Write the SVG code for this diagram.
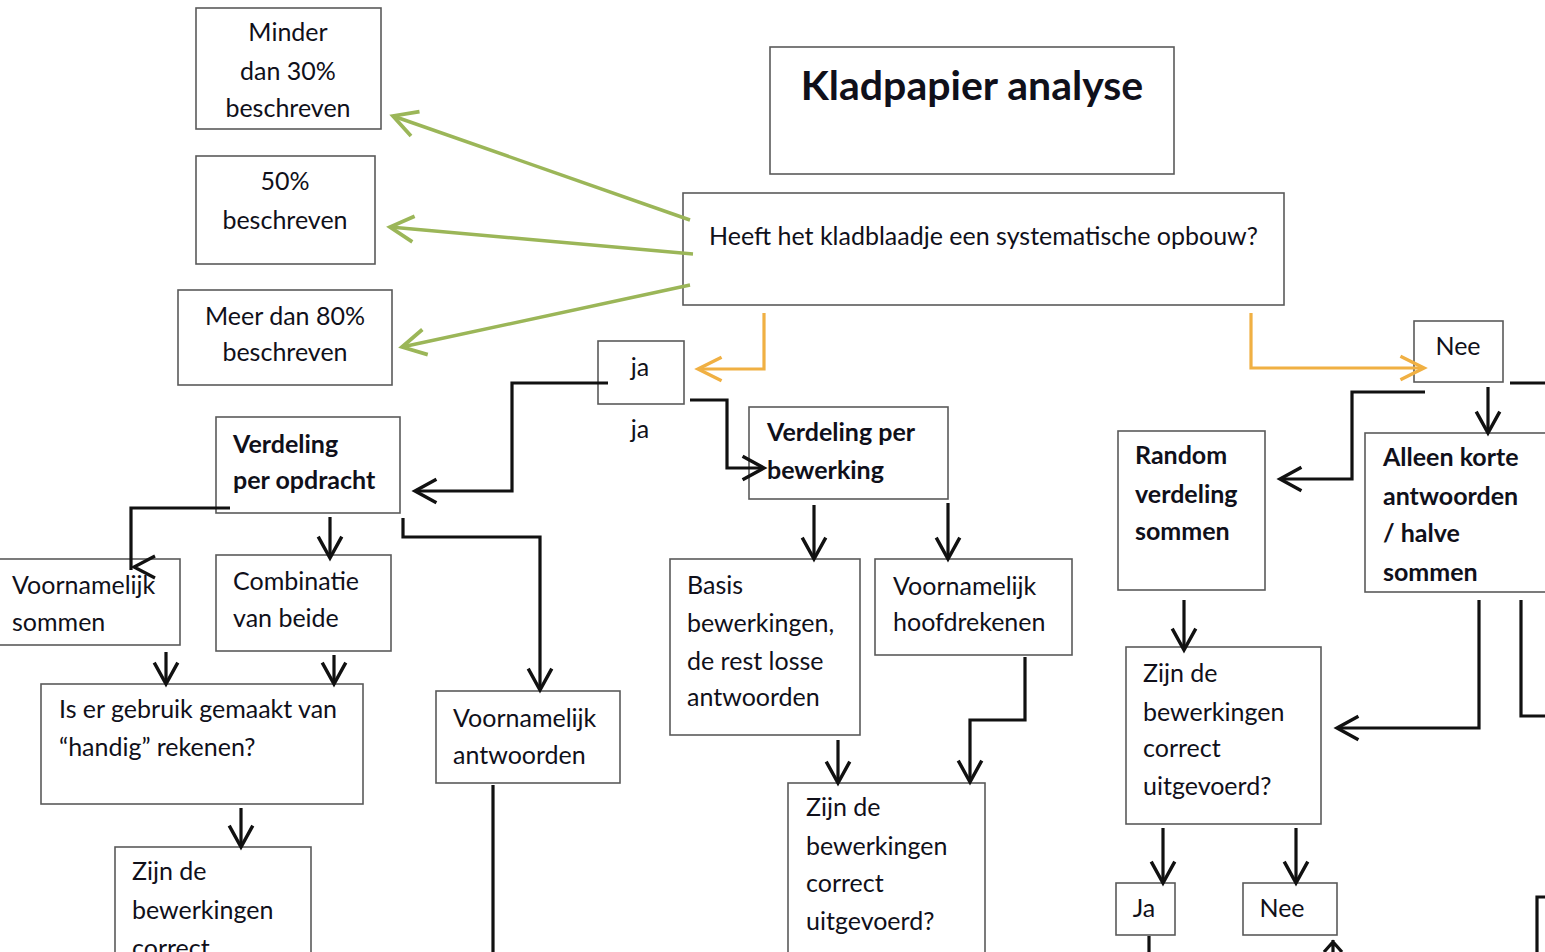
<svg xmlns="http://www.w3.org/2000/svg" width="1545" height="952" viewBox="0 0 1545 952">
<style>
.box{fill:#fff;stroke:#5a5a5a;stroke-width:1.6}
.t{font-family:Lato,"Open Sans","Liberation Sans",sans-serif;font-size:25px;fill:#10101a}
.b{font-weight:bold}
.c{text-anchor:middle}
.k{fill:none;stroke:#111;stroke-width:3.2;stroke-linejoin:miter}
.g{fill:none;stroke:#9bb658;stroke-width:3.5}
.o{fill:none;stroke:#f0b043;stroke-width:3.2}
</style>
<defs>
<marker id="ak" markerUnits="userSpaceOnUse" orient="auto" markerWidth="30" markerHeight="30" refX="0" refY="0" viewBox="-22 -14 26 28" overflow="visible">
<path d="M-20,-11 L0,0 L-20,11" fill="none" stroke="#111" stroke-width="3.2"/>
</marker>
<marker id="ag" markerUnits="userSpaceOnUse" orient="auto" markerWidth="30" markerHeight="30" refX="0" refY="0" viewBox="-22 -14 26 28" overflow="visible">
<path d="M-22,-12 L0,0 L-22,12" fill="none" stroke="#9bb658" stroke-width="3.5"/>
</marker>
<marker id="ao" markerUnits="userSpaceOnUse" orient="auto" markerWidth="30" markerHeight="30" refX="0" refY="0" viewBox="-22 -14 26 28" overflow="visible">
<path d="M-22,-11 L0,0 L-22,11" fill="none" stroke="#f0b043" stroke-width="3.2"/>
</marker>
</defs>
<rect width="1545" height="952" fill="#fff"/>

<g id="n-minder"><rect class="box" x="196" y="8" width="185" height="121"/>
<text class="t c" x="288" y="41">Minder</text><text class="t c" x="288" y="80">dan 30%</text><text class="t c" x="288" y="117">beschreven</text></g>
<g id="n-50"><rect class="box" x="196" y="156" width="179" height="108"/>
<text class="t c" x="285" y="190">50%</text><text class="t c" x="285" y="229">beschreven</text></g>
<g id="n-meer"><rect class="box" x="178" y="290" width="214" height="95"/>
<text class="t c" x="285" y="325">Meer dan 80%</text><text class="t c" x="285" y="361">beschreven</text></g>
<g id="n-title"><rect class="box" x="770" y="47" width="404" height="127"/>
<text class="t b c" x="972" y="100" style="font-size:41px">Kladpapier analyse</text></g>
<g id="n-vraag"><rect class="box" x="683" y="193" width="601" height="112"/>
<text class="t" x="709" y="245">Heeft het kladblaadje een systematische opbouw?</text></g>
<g id="n-ja"><rect class="box" x="598" y="341" width="86" height="63"/>
<text class="t c" x="640" y="376">ja</text></g>
<g id="l-ja"><text class="t c" x="640" y="438">ja</text></g>
<g id="n-nee"><rect class="box" x="1414" y="321" width="89" height="61"/>
<text class="t c" x="1458" y="355">Nee</text></g>
<g id="n-opdracht"><rect class="box" x="216" y="417" width="184" height="96"/>
<text class="t b" x="233" y="453">Verdeling</text><text class="t b" x="233" y="489">per opdracht</text></g>
<g id="n-bewerking"><rect class="box" x="749" y="407" width="199" height="92"/>
<text class="t b" x="767" y="441">Verdeling per</text><text class="t b" x="767" y="479">bewerking</text></g>
<g id="n-random"><rect class="box" x="1118" y="431" width="147" height="159"/>
<text class="t b" x="1135" y="464">Random</text><text class="t b" x="1135" y="503">verdeling</text><text class="t b" x="1135" y="540">sommen</text></g>
<g id="n-alleen"><rect class="box" x="1365" y="433" width="200" height="159"/>
<text class="t b" x="1383" y="466">Alleen korte</text><text class="t b" x="1383" y="505">antwoorden</text><text class="t b" x="1383" y="542">/ halve</text><text class="t b" x="1383" y="581">sommen</text></g>
<g id="n-vsommen"><rect class="box" x="-20" y="559" width="200" height="86"/>
<text class="t" x="12" y="594">Voornamelijk</text><text class="t" x="12" y="631">sommen</text></g>
<g id="n-combinatie"><rect class="box" x="216" y="555" width="175" height="96"/>
<text class="t" x="233" y="590">Combinatie</text><text class="t" x="233" y="627">van beide</text></g>
<g id="n-handig"><rect class="box" x="41" y="684" width="322" height="120"/>
<text class="t" x="59" y="718">Is er gebruik gemaakt van</text><text class="t" x="59" y="756">“handig” rekenen?</text></g>
<g id="n-vantwoorden"><rect class="box" x="436" y="691" width="184" height="92"/>
<text class="t" x="453" y="727">Voornamelijk</text><text class="t" x="453" y="764">antwoorden</text></g>
<g id="n-zijn-l"><rect class="box" x="115" y="847" width="196" height="130"/>
<text class="t" x="132" y="880">Zijn de</text><text class="t" x="132" y="919">bewerkingen</text><text class="t" x="132" y="957">correct</text></g>
<g id="n-basis"><rect class="box" x="670" y="559" width="190" height="176"/>
<text class="t" x="687" y="594">Basis</text><text class="t" x="687" y="632">bewerkingen,</text><text class="t" x="687" y="670">de rest losse</text><text class="t" x="687" y="706">antwoorden</text></g>
<g id="n-hoofd"><rect class="box" x="875" y="559" width="197" height="96"/>
<text class="t" x="893" y="595">Voornamelijk</text><text class="t" x="893" y="631">hoofdrekenen</text></g>
<g id="n-zijn-m"><rect class="box" x="788" y="783" width="197" height="190"/>
<text class="t" x="806" y="816">Zijn de</text><text class="t" x="806" y="855">bewerkingen</text><text class="t" x="806" y="892">correct</text><text class="t" x="806" y="930">uitgevoerd?</text></g>
<g id="n-zijn-r"><rect class="box" x="1126" y="647" width="195" height="177"/>
<text class="t" x="1143" y="682">Zijn de</text><text class="t" x="1143" y="721">bewerkingen</text><text class="t" x="1143" y="757">correct</text><text class="t" x="1143" y="795">uitgevoerd?</text></g>
<g id="n-ja2"><rect class="box" x="1116" y="883" width="59" height="52"/>
<text class="t c" x="1144" y="917">Ja</text></g>
<g id="n-nee2"><rect class="box" x="1243" y="883" width="94" height="52"/>
<text class="t c" x="1282" y="917">Nee</text></g>

<g id="connectors">
<path class="g" d="M690,220 L393,116" marker-end="url(#ag)"/>
<path class="g" d="M693,254 L390,227" marker-end="url(#ag)"/>
<path class="g" d="M690,285 L402,347" marker-end="url(#ag)"/>
<path class="o" d="M764,313 V369 H698" marker-end="url(#ao)"/>
<path class="o" d="M1251,313 V368 H1424" marker-end="url(#ao)"/>
<path class="k" d="M608,383 H512 V491 H415" marker-end="url(#ak)"/>
<path class="k" d="M690,400 H727 V468 H764" marker-end="url(#ak)"/>
<path class="k" d="M230,508 H131 V570"/>
<path class="k" d="M155,556 L134,567 L155,578"/>
<path class="k" d="M330,517 V558" marker-end="url(#ak)"/>
<path class="k" d="M403,518 V537 H540 V690" marker-end="url(#ak)"/>
<path class="k" d="M166,652 V684" marker-end="url(#ak)"/>
<path class="k" d="M334,655 V684" marker-end="url(#ak)"/>
<path class="k" d="M241,808 V847" marker-end="url(#ak)"/>
<path class="k" d="M493,785 V952"/>
<path class="k" d="M814,505 V559" marker-end="url(#ak)"/>
<path class="k" d="M948,503 V559" marker-end="url(#ak)"/>
<path class="k" d="M838,740 V783" marker-end="url(#ak)"/>
<path class="k" d="M1025,657 V720 H970 V782" marker-end="url(#ak)"/>
<path class="k" d="M1425,392 H1352 V479 H1280" marker-end="url(#ak)"/>
<path class="k" d="M1488,387 V433" marker-end="url(#ak)"/>
<path class="k" d="M1510,383 H1545"/>
<path class="k" d="M1184,600 V650" marker-end="url(#ak)"/>
<path class="k" d="M1479,600 V728 H1337" marker-end="url(#ak)"/>
<path class="k" d="M1521,600 V716 H1545"/>
<path class="k" d="M1163,828 V883" marker-end="url(#ak)"/>
<path class="k" d="M1296,828 V883" marker-end="url(#ak)"/>
<path class="k" d="M1149,936 V952"/>
<path class="k" d="M1333,940 V952 M1324,952 L1333,942 L1342,952"/>
<path class="k" d="M1545,897 H1537 V952"/>
</g>
</svg>
